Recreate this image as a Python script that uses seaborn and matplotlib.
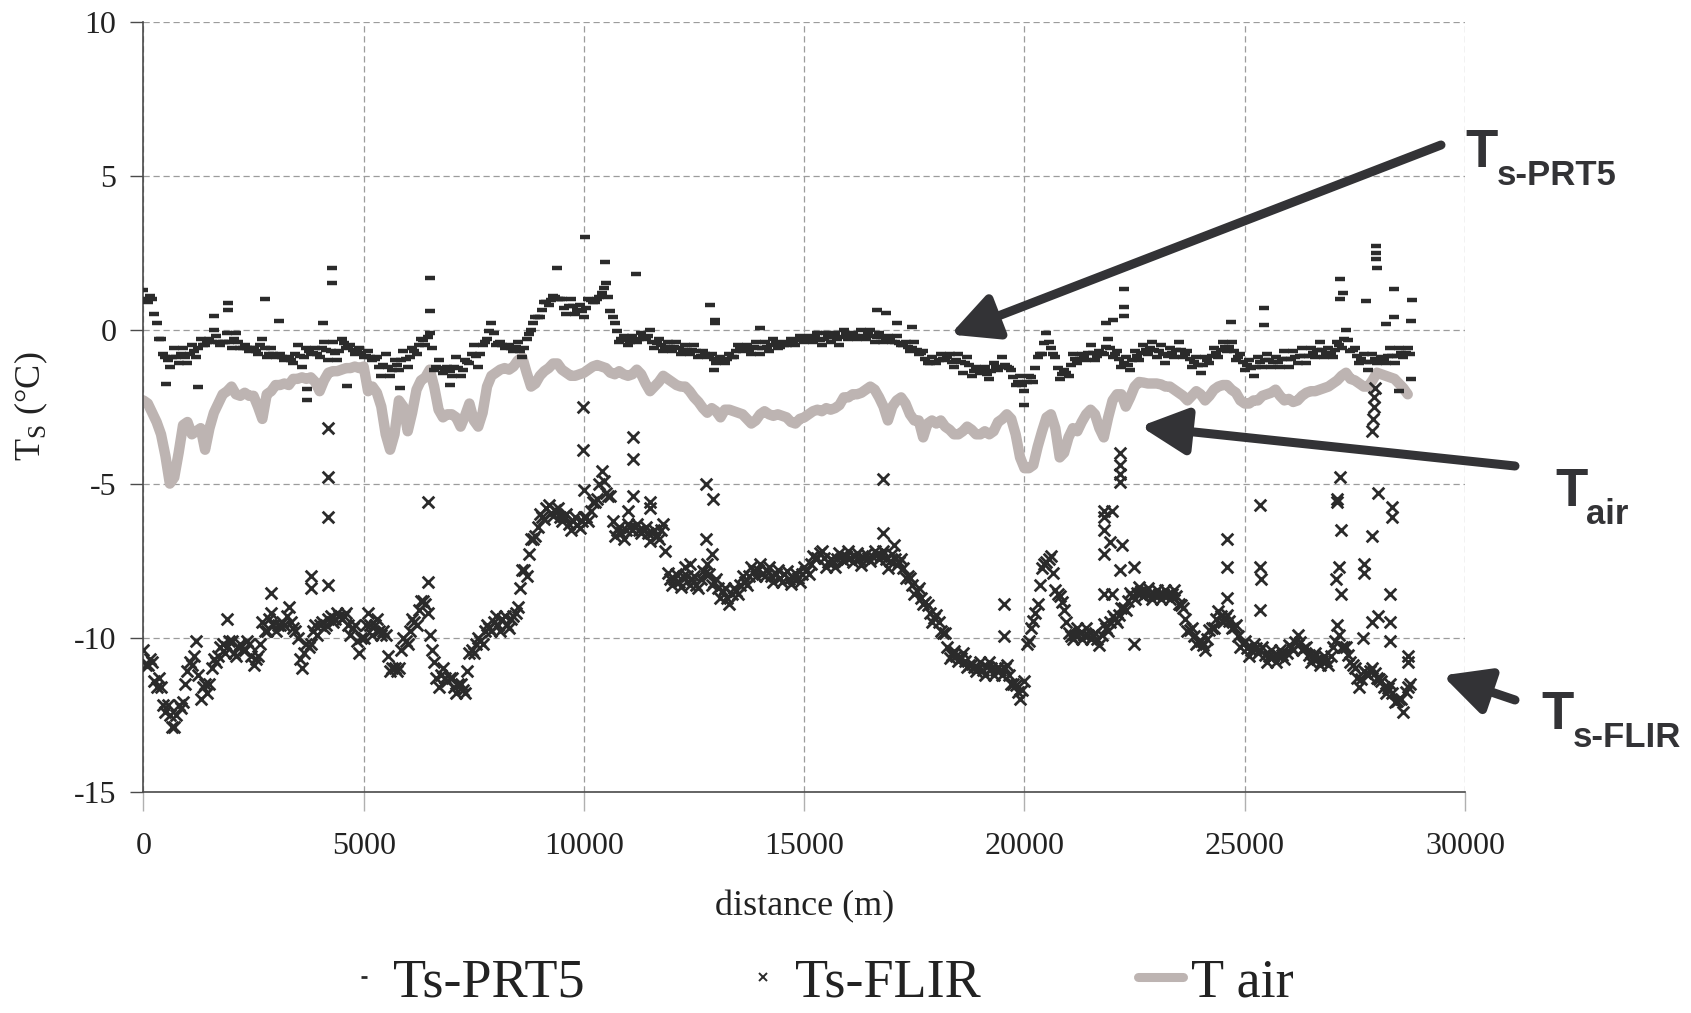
import numpy as np
import pandas as pd
import matplotlib
matplotlib.use("Agg")
import matplotlib.pyplot as plt
import seaborn as sns
from matplotlib.lines import Line2D

# ---------------- data ----------------
STEP = 100  # m between samples; the "_b" readings sit half a step later

tair = [
    -2.3, -2.4, -2.7, -3.0, -3.4, -4.1, -5.0, -4.8, -4.0, -3.1,
    -3.0, -3.4, -3.3, -3.2, -3.9, -3.2, -2.7, -2.4, -2.1, -2.0,
    -1.85, -2.1, -2.15, -2.05, -2.15, -2.15, -2.5, -2.9, -2.1, -2.0,
    -1.8, -1.8, -1.75, -1.8, -1.6, -1.6, -1.55, -1.6, -1.55, -1.7,
    -2.0, -1.65, -1.4, -1.35, -1.35, -1.3, -1.25, -1.25, -1.2, -1.25,
    -1.2, -2.0, -1.85, -2.05, -2.5, -3.4, -3.9, -3.4, -2.3, -2.5,
    -3.3, -2.7, -1.95, -1.65, -1.55, -1.3, -1.85, -2.6, -2.85, -2.75,
    -2.75, -2.85, -3.15, -2.8, -2.4, -2.95, -3.15, -2.7, -1.85, -1.5,
    -1.4, -1.3, -1.25, -1.3, -1.2, -1.0, -0.9, -1.4, -1.85, -1.75,
    -1.5, -1.35, -1.25, -1.1, -1.1, -1.3, -1.4, -1.5, -1.5, -1.45,
    -1.4, -1.3, -1.2, -1.15, -1.2, -1.25, -1.4, -1.45, -1.35, -1.45,
    -1.5, -1.45, -1.3, -1.45, -1.75, -2.0, -1.85, -1.7, -1.5, -1.6,
    -1.7, -1.8, -1.85, -1.85, -2.0, -2.2, -2.35, -2.55, -2.7, -2.55,
    -2.65, -2.85, -2.6, -2.6, -2.65, -2.7, -2.75, -2.9, -3.05, -2.95,
    -2.75, -2.65, -2.75, -2.8, -2.75, -2.8, -2.85, -3.0, -3.05, -2.9,
    -2.85, -2.75, -2.65, -2.6, -2.65, -2.55, -2.6, -2.55, -2.45, -2.2,
    -2.2, -2.1, -2.1, -2.05, -1.95, -1.85, -1.95, -2.2, -2.5, -2.95,
    -2.5, -2.3, -2.2, -2.4, -2.75, -2.95, -2.95, -3.5, -3.05, -2.95,
    -3.05, -2.95, -3.15, -3.25, -3.4, -3.4, -3.3, -3.15, -3.25, -3.4,
    -3.4, -3.3, -3.4, -3.3, -3.0, -2.9, -2.75, -2.9, -3.4, -4.15,
    -4.5, -4.5, -4.4, -3.8, -3.3, -2.85, -2.75, -3.2, -4.15, -4.0,
    -3.5, -3.2, -3.3, -3.0, -2.75, -2.6, -2.75, -3.2, -3.5, -2.85,
    -2.3, -2.1, -2.1, -2.5, -2.2, -1.85, -1.7, -1.72, -1.75, -1.75,
    -1.75, -1.78, -1.85, -1.85, -1.95, -2.05, -2.15, -2.3, -2.15, -2.0,
    -2.1, -2.3, -2.15, -1.95, -1.85, -1.8, -1.8, -1.95, -2.05, -2.3,
    -2.4, -2.4, -2.3, -2.3, -2.15, -2.1, -2.05, -1.95, -2.15, -2.3,
    -2.25, -2.35, -2.3, -2.15, -2.05, -2.0, -2.0, -1.95, -1.9, -1.85,
    -1.75, -1.65, -1.5, -1.4, -1.6, -1.65, -1.75, -1.85, -1.85, -1.65,
    -1.4, -1.45, -1.5, -1.55, -1.6, -1.75, -1.9, -2.1,
]

prt5 = [
    1.3, 0.9, 1.0, 0.2, -0.3, -0.9, -1.2, -0.6, -1.1, -0.6,
    -1.1, -0.5, -0.9, -0.3, -0.5, -0.3, 0.0, -0.4, -0.4, -0.1,
    -0.6, -0.1, -0.6, -0.5, -0.7, -0.6, -0.8, -0.3, -0.9, -0.6,
    -0.9, -0.8, -1.0, -0.9, -1.1, -0.5, -1.2, -0.6, -0.8, -0.6,
    -0.9, -0.4, -1.0, -0.4, -1.0, -0.3, -0.6, -0.5, -0.8, -0.6,
    -0.9, -0.7, -1.0, -0.9, -1.5, -0.8, -1.5, -1.0, -1.3, -0.7,
    -1.2, -0.6, -0.8, -0.3, -0.5, -0.1, -1.3, -1.0, -1.4, -1.2,
    -1.5, -0.9, -1.5, -1.0, -1.1, -0.5, -1.2, -0.5, -0.3, 0.2,
    -0.5, -0.4, -0.6, -0.5, -0.7, -0.4, -0.9, -0.3, 0.0, 0.4,
    0.4, 0.9, 0.8, 1.1, 1.0, 1.0, 0.5, 1.0, 0.5, 0.8,
    0.4, 1.0, 0.9, 1.0, 1.2, 1.5, 0.6, 0.2, -0.4, -0.2,
    -0.5, -0.2, -0.4, -0.1, -0.3, 0.0, -0.6, -0.3, -0.7, -0.4,
    -0.7, -0.4, -0.8, -0.5, -0.8, -0.5, -0.9, -0.7, -0.9, -0.8,
    -1.1, -0.9, -1.1, -0.8, -0.9, -0.5, -0.7, -0.5, -0.8, -0.4,
    -0.8, -0.4, -0.7, -0.3, -0.6, -0.4, -0.5, -0.3, -0.5, -0.2,
    -0.4, -0.2, -0.4, -0.1, -0.5, -0.1, -0.4, -0.1, -0.5, 0.0,
    -0.3, -0.1, -0.3, 0.0, -0.3, 0.0, -0.4, -0.1, -0.4, -0.2,
    -0.4, -0.2, -0.5, -0.4, -0.7, -0.4, -0.8, -0.7, -1.1, -0.9,
    -1.1, -0.8, -1.0, -0.8, -1.2, -0.8, -1.4, -0.9, -1.5, -1.2,
    -1.4, -1.2, -1.6, -1.1, -1.3, -0.9, -1.2, -1.3, -1.8, -1.5,
    -2.0, -1.5, -1.7, -0.9, -0.8, -0.1, -0.6, -0.9, -1.6, -1.3,
    -1.5, -0.8, -1.1, -0.8, -1.0, -0.5, -1.0, -0.7, -0.8, -0.3,
    -0.9, -0.7, -1.2, -0.9, -1.3, -0.7, -1.0, -0.5, -0.8, -0.4,
    -0.9, -0.5, -1.1, -0.6, -0.9, -0.4, -0.9, -0.7, -1.2, -0.9,
    -1.4, -0.9, -1.1, -0.6, -0.9, -0.4, -0.7, -0.4, -1.0, -0.8,
    -1.3, -1.0, -1.5, -0.9, -1.2, -0.8, -1.2, -0.9, -1.2, -0.7,
    -1.2, -0.7, -1.1, -0.6, -1.1, -0.6, -0.9, -0.4, -0.9, -0.6,
    -0.9, -0.4, -0.6, 0.0, -0.7, -0.6, -1.1, -0.8, -1.3, -0.8,
    -1.1, -0.9, -1.1, -0.6, -1.1, -0.6, -0.9, -0.6,
]

prt5_b = [
    1.0, 1.1, 0.5, -0.3, -0.8, -1.0, -0.9, -0.9, -0.8, -0.9,
    -0.8, -0.7, -0.6, -0.5, -0.4, -0.4, -0.2, -0.5, -0.4, -0.4,
    -0.3, -0.4, -0.6, -0.6, -0.6, -0.7, -0.5, -0.6, -0.8, -0.8,
    -0.85, -0.9, -0.95, -1.0, -0.8, -0.85, -0.9, -0.7, -0.75, -0.8,
    -0.6, -0.65, -0.7, -0.75, -0.7, -0.45, -0.55, -0.65, -0.7, -0.75,
    -0.85, -0.9, -0.95, -1.2, -1.15, -1.2, -1.3, -1.15, -1.0, -0.95,
    -0.9, -0.7, -0.5, -0.35, -0.25, -0.6, -1.2, -1.25, -1.3, -1.35,
    -1.2, -1.25, -1.3, -1.05, -0.8, -0.85, -0.8, -0.4, -0.05, -0.1,
    -0.45, -0.5, -0.55, -0.6, -0.55, -0.7, -0.6, -0.15, 0.2, 0.4,
    0.65, 0.9, 0.95, 1.05, 1.0, 0.7, 0.75, 0.75, 0.65, 0.6,
    0.7, 0.95, 0.9, 1.05, 1.35, 1.05, 0.4, -0.05, -0.3, -0.35,
    -0.4, -0.35, -0.3, -0.25, -0.2, -0.4, -0.45, -0.5, -0.55, -0.55,
    -0.55, -0.6, -0.65, -0.65, -0.65, -0.7, -0.85, -0.8, -0.85, -0.95,
    -1.0, -1.0, -0.95, -0.9, -0.7, -0.55, -0.6, -0.65, -0.55, -0.6,
    -0.6, -0.55, -0.5, -0.45, -0.55, -0.5, -0.45, -0.4, -0.35, -0.35,
    -0.35, -0.3, -0.25, -0.35, -0.3, -0.25, -0.25, -0.3, -0.25, -0.15,
    -0.25, -0.2, -0.2, -0.25, -0.15, -0.2, -0.25, -0.25, -0.35, -0.35,
    -0.4, -0.45, -0.5, -0.55, -0.6, -0.65, -0.75, -0.95, -1.1, -1.05,
    -1.0, -0.95, -0.9, -1.05, -1.0, -1.05, -1.1, -1.15, -1.35, -1.3,
    -1.35, -1.45, -1.35, -1.2, -1.2, -1.15, -1.25, -1.55, -1.7, -1.8,
    -1.7, -1.55, -1.25, -0.8, -0.45, -0.4, -0.8, -1.25, -1.45, -1.4,
    -1.15, -0.95, -0.95, -0.9, -0.75, -0.75, -0.85, -0.75, -0.55, -0.6,
    -0.8, -0.95, -1.1, -1.15, -1.0, -0.85, -0.75, -0.65, -0.6, -0.65,
    -0.7, -0.8, -0.85, -0.75, -0.65, -0.65, -0.8, -0.95, -1.05, -1.15,
    -1.15, -1.0, -0.85, -0.75, -0.65, -0.55, -0.55, -0.7, -0.9, -1.05,
    -1.15, -1.25, -1.2, -1.05, -1.0, -1.0, -1.05, -1.05, -0.95, -0.95,
    -0.95, -0.9, -0.85, -0.85, -0.85, -0.75, -0.65, -0.65, -0.75, -0.75,
    -0.65, -0.5, -0.3, -0.35, -0.65, -0.85, -0.95, -1.05, -1.05, -0.95,
    -1.0, -1.0, -0.85, -0.85, -0.85, -0.75, -0.75, -0.8,
]

flir = [
    -10.4, -10.9, -10.8, -11.6, -11.6, -12.4, -12.5, -12.9, -12.2, -12.1,
    -11.1, -10.9, -10.1, -12.0, -11.5, -11.5, -10.7, -10.6, -10.2, -10.3,
    -10.1, -10.6, -10.2, -10.4, -10.2, -10.9, -10.6, -9.5, -9.8, -9.2,
    -9.8, -9.6, -9.6, -9.0, -9.7, -10.0, -11.0, -10.2, -10.2, -9.6,
    -9.6, -9.7, -9.4, -9.5, -9.2, -9.4, -9.2, -9.9, -9.6, -10.5,
    -10.0, -9.2, -9.9, -9.4, -9.9, -9.9, -11.1, -11.0, -11.0, -10.0,
    -10.2, -9.4, -9.6, -8.8, -8.9, -9.9, -10.8, -11.6, -11.0, -11.4,
    -11.3, -11.8, -11.5, -11.8, -10.5, -10.5, -10.0, -10.2, -9.6, -9.8,
    -9.3, -9.8, -9.3, -9.7, -9.3, -9.0, -7.8, -8.0, -6.8, -6.7,
    -6.0, -6.15, -5.7, -6.05, -5.8, -6.2, -6.0, -6.5, -6.1, -6.45,
    -6.1, -6.2, -5.6, -5.5, -4.6, -5.3, -5.4, -6.7, -6.4, -6.8,
    -6.3, -6.5, -6.3, -6.6, -6.4, -6.85, -6.5, -6.8, -6.3, -7.9,
    -8.3, -7.95, -8.35, -7.7, -8.3, -8.0, -8.4, -7.85, -7.6, -8.3,
    -8.1, -8.7, -8.4, -8.9, -8.4, -8.6, -8.0, -8.3, -7.7, -8.0,
    -7.6, -8.0, -7.7, -8.2, -7.8, -8.2, -7.85, -8.25, -7.9, -8.2,
    -7.7, -7.95, -7.35, -7.4, -7.2, -7.7, -7.45, -7.7, -7.25, -7.5,
    -7.2, -7.55, -7.25, -7.65, -7.3, -7.5, -7.2, -7.45, -7.2, -7.75,
    -7.3, -7.65, -7.45, -8.05, -8.05, -8.6, -8.4, -8.9, -8.95, -9.5,
    -9.25, -9.8, -9.85, -10.65, -10.45, -10.75, -10.5, -10.95, -10.85, -11.1,
    -10.8, -11.2, -10.8, -11.2, -10.95, -11.2, -10.9, -11.5, -11.55, -12.0,
    -11.4, -10.1, -9.45, -8.9, -7.75, -7.55, -7.35, -8.45, -8.65, -9.1,
    -9.85, -10.05, -9.7, -10.05, -9.7, -10.05, -9.85, -10.25, -9.55, -9.8,
    -9.3, -9.5, -9.05, -9.1, -8.55, -8.75, -8.35, -8.65, -8.4, -8.75,
    -8.45, -8.75, -8.45, -8.75, -8.45, -8.9, -9.05, -9.8, -9.7, -10.2,
    -10.1, -10.4, -9.75, -9.7, -9.15, -9.5, -9.25, -9.7, -9.6, -10.3,
    -10.1, -10.6, -10.2, -10.5, -10.3, -10.8, -10.4, -10.8, -10.4, -10.7,
    -10.25, -10.4, -9.9, -10.4, -10.3, -10.8, -10.5, -10.9, -10.6, -10.9,
    -10.3, -9.6, -10.3, -10.3, -10.8, -11.0, -11.6, -11.1, -11.2, -11.0,
    -11.3, -11.4, -11.8, -11.5, -12.1, -12.0, -12.4, -11.6,
]

flir_b = [
    -10.9, -10.7, -11.4, -11.3, -12.2, -12.2, -12.9, -12.5, -12.3, -11.5,
    -10.8, -10.6, -11.2, -11.6, -11.8, -11.0, -10.8, -10.3, -10.5, -10.1,
    -10.5, -10.3, -10.4, -10.1, -10.6, -10.7, -10.2, -9.8, -9.4, -9.6,
    -9.6, -9.5, -9.3, -9.5, -9.8, -10.7, -10.5, -10.3, -9.8, -9.9,
    -9.5, -9.6, -9.3, -9.4, -9.3, -9.3, -9.6, -9.7, -10.1, -10.0,
    -9.6, -9.6, -9.6, -9.8, -9.8, -10.6, -11.0, -11.1, -10.4, -10.1,
    -9.8, -9.5, -9.1, -8.8, -9.2, -10.4, -11.3, -11.2, -11.3, -11.3,
    -11.6, -11.5, -11.7, -11.1, -10.4, -10.2, -10.1, -9.8, -9.7, -9.5,
    -9.6, -9.4, -9.6, -9.4, -9.2, -8.4, -7.8, -7.3, -6.8, -6.4,
    -6.1, -5.8, -5.95, -5.85, -6.1, -6.05, -6.3, -6.2, -6.35, -6.2,
    -6.1, -5.9, -5.6, -5.0, -4.9, -5.4, -6.2, -6.5, -6.6, -6.5,
    -6.4, -6.4, -6.5, -6.5, -6.6, -6.6, -6.7, -6.5, -7.2, -8.1,
    -8.1, -8.2, -8.0, -8.0, -8.1, -8.3, -8.1, -7.9, -7.95, -8.2,
    -8.4, -8.5, -8.7, -8.6, -8.5, -8.3, -8.2, -8.0, -7.85, -7.8,
    -7.95, -7.8, -8.0, -7.95, -8.05, -7.95, -8.1, -8.05, -8.05, -7.95,
    -7.85, -7.6, -7.4, -7.25, -7.4, -7.55, -7.55, -7.45, -7.35, -7.35,
    -7.4, -7.35, -7.45, -7.4, -7.4, -7.35, -7.3, -7.35, -7.45, -7.5,
    -7.45, -7.55, -7.75, -8.0, -8.3, -8.5, -8.7, -8.85, -9.2, -9.35,
    -9.5, -9.85, -10.3, -10.55, -10.6, -10.65, -10.75, -10.9, -10.95, -11.0,
    -11.05, -10.95, -11.0, -11.05, -11.05, -11.0, -11.2, -11.5, -11.75, -11.7,
    -10.2, -9.7, -9.2, -8.3, -7.6, -7.45, -7.9, -8.6, -8.85, -9.5,
    -9.95, -9.9, -9.85, -9.9, -9.9, -9.95, -10.05, -9.9, -9.7, -9.5,
    -9.4, -9.25, -9.05, -8.8, -8.65, -8.55, -8.5, -8.5, -8.6, -8.6,
    -8.6, -8.6, -8.6, -8.6, -8.65, -8.95, -9.4, -9.75, -9.95, -10.15,
    -10.25, -10.05, -9.7, -9.4, -9.3, -9.35, -9.45, -9.65, -9.95, -10.2,
    -10.35, -10.4, -10.35, -10.4, -10.55, -10.6, -10.6, -10.6, -10.55, -10.5,
    -10.3, -10.15, -10.15, -10.35, -10.55, -10.65, -10.7, -10.75, -10.75, -10.6,
    -10.1, -9.9, -10.3, -10.55, -10.9, -11.3, -11.35, -11.15, -11.1, -11.15,
    -11.35, -11.6, -11.65, -11.8, -12.05, -12.0, -11.75, -11.5,
]

# isolated readings away from the main bands
prt5_out_x = [520, 1240, 1600, 1920, 1920, 2761, 3080, 3720, 3720, 4075, 4275, 4275,
              4630, 5836, 6508, 6508, 6970, 9384, 10030, 10468, 11188, 12854, 12983,
              12983, 12950, 13990, 16657, 16846, 17111, 17450, 20000, 21852, 22000,
              22254, 22254, 22254, 24693, 25436, 25436, 27163, 27220, 27163, 27761,
              27990, 27990, 27990, 28000, 28200, 28390, 28390, 28500, 28770, 28806, 28780]
prt5_out_y = [-1.78, -1.86, 0.44, 0.85, 0.65, 0.98, 0.27, -2.27, -1.94, 0.22, 1.99, 1.5,
              -1.83, -1.89, 1.69, 0.6, -1.8, 2.0, 3.0, 2.2, 1.8, 0.8, 0.3,
              0.2, -1.3, 0.05, 0.65, 0.55, 0.2, 0.08, -2.45, 0.22, 0.3,
              1.33, 0.73, 0.44, 0.25, 0.71, 0.14, 1.63, 1.2, 1.0, 0.93,
              2.7, 2.5, 2.3, 2.0, 0.19, 1.33, 0.41, -2.0, 0.27, 0.95, -1.6]

flir_out_x = [1900, 2900, 3800, 3800, 4200, 4200, 4200, 4200, 6460, 6460, 9968, 9968,
              10000, 11000, 11125, 11125, 11125, 11500, 11500, 12400, 12775, 12920,
              12770, 12900, 16780, 16800, 17030, 19540, 19540, 21797, 21986, 21797,
              21797, 21948, 22213, 21812, 22160, 22478, 21800, 21990, 22493, 22175,
              22175, 22175, 22175, 24597, 24597, 24597, 25354, 25354, 25360, 25354,
              27170, 27095, 27095, 27180, 27150, 27080, 27180, 27890, 27920, 27930,
              27940, 27950, 28018, 27890, 28343, 28343, 27700, 27700, 28300, 28030,
              27880, 28300, 27680, 28300, 28700, 28700]
flir_out_y = [-9.4, -8.55, -8.0, -8.4, -3.2, -4.8, -6.1, -8.3, -5.6, -8.2, -2.5, -3.9,
              -5.2, -5.9, -3.5, -4.2, -5.4, -5.6, -5.8, -7.6, -5.0, -5.5,
              -6.8, -7.3, -4.86, -6.6, -7.0, -8.9, -9.96, -5.9, -5.9, -6.1,
              -6.5, -6.9, -7.0, -7.3, -7.8, -7.7, -8.6, -8.6, -10.2, -4.0,
              -4.4, -4.7, -4.95, -6.8, -7.7, -8.7, -5.7, -7.7, -8.1, -9.1,
              -4.8, -5.5, -5.6, -6.5, -7.7, -8.1, -8.6, -3.3, -2.9, -2.5,
              -2.2, -1.9, -5.3, -6.7, -5.75, -6.1, -7.6, -7.9, -8.6, -9.3,
              -9.5, -9.5, -10.0, -10.1, -10.6, -10.8]

x_ticks = [0, 5000, 10000, 15000, 20000, 25000, 30000]
y_ticks = [-15, -10, -5, 0, 5, 10]
legend_labels = ["Ts-PRT5", "Ts-FLIR", "T air"]

# ---------------- tables ----------------
def grid_of(values, offset=0):
    return np.arange(len(values)) * STEP + offset

df_tair = pd.DataFrame({"distance": grid_of(tair), "T": tair})
df_prt5 = pd.concat([
    pd.DataFrame({"distance": grid_of(prt5), "T": prt5}),
    pd.DataFrame({"distance": grid_of(prt5_b, STEP // 2), "T": prt5_b}),
    pd.DataFrame({"distance": prt5_out_x, "T": prt5_out_y}),
], ignore_index=True)
df_flir = pd.concat([
    pd.DataFrame({"distance": grid_of(flir), "T": flir}),
    pd.DataFrame({"distance": grid_of(flir_b, STEP // 2), "T": flir_b}),
    pd.DataFrame({"distance": flir_out_x, "T": flir_out_y}),
], ignore_index=True)

# ---------------- style ----------------
sns.set_theme(style="white")
plt.rcParams["font.family"] = ["Liberation Serif", "DejaVu Serif"]
plt.rcParams["axes.unicode_minus"] = False
plt.rcParams["mathtext.fontset"] = "custom"
plt.rcParams["mathtext.rm"] = "Liberation Serif"

W, H = 1691, 1013
fig = plt.figure(figsize=(W / 100, H / 100), dpi=100)
ax = fig.add_axes([143.4 / W, 1 - 791.6 / H, (1465 - 143.4) / W, (791.6 - 21.6) / H])

DARK = "#2b2b2b"
AIR = "#bdb4b2"

sns.lineplot(data=df_tair, x="distance", y="T", ax=ax, color=AIR, linewidth=7.5,
             sort=False, zorder=2, legend=False)
sns.scatterplot(data=df_prt5, x="distance", y="T", ax=ax, marker="_", s=55,
                linewidth=3.2, color=DARK, zorder=3, legend=False)
sns.scatterplot(data=df_flir, x="distance", y="T", ax=ax, marker="x", s=70,
                linewidth=2.0, color=DARK, zorder=3, legend=False)

ax.set_xlim(0, 30000)
ax.set_ylim(-15, 10)
ax.set_xticks(x_ticks)
ax.set_yticks(y_ticks)
ax.grid(True, linestyle=(0, (5, 3)), color="#9c9c9c", linewidth=0.9)
ax.set_axisbelow(True)
sns.despine(ax=ax)
for side in ("left", "bottom"):
    ax.spines[side].set_color("#4a4a4a")
    ax.spines[side].set_linewidth(1.2)

ax.tick_params(axis="y", left=True, length=9.5, width=1, color="#4a4a4a", pad=10,
               labelsize=23, labelcolor="#222222")
ax.tick_params(axis="x", bottom=True, length=14, width=1, color="#b0b0b0", pad=15,
               labelsize=23, labelcolor="#222222")

ax.set_xlabel("distance (m)", fontsize=26, color="#222222")
ax.set_ylabel(r"T$_{\mathregular{S}}$ (°C)", fontsize=26, color="#222222")
ax.xaxis.set_label_coords(0.5, -0.128)
ax.yaxis.set_label_coords(-0.071, 0.5)

# ---------------- legend (three entries placed along the bottom) ----------------
def fxf(px):
    return px / W

def fyf(py):
    return 1 - py / H

h_prt5 = Line2D([], [], linestyle="none", marker="_", markersize=5, markeredgewidth=2,
                color=DARK)
h_flir = Line2D([], [], linestyle="none", marker="x", markersize=6, markeredgewidth=1.4,
                color=DARK)
h_air = Line2D([], [], color=AIR, linewidth=6.5, solid_capstyle="round")

leg_specs = [(h_prt5, legend_labels[0], 348, 0.6, 0.23),
             (h_flir, legend_labels[1], 747, 0.6, 0.29),
             (h_air, legend_labels[2], 1138, 0.83, 0.14)]
for h, lab, xpix, hl, tp in leg_specs:
    fig.legend(handles=[h], labels=[lab], loc="center left",
               bbox_to_anchor=(fxf(xpix), fyf(983)), frameon=False, fontsize=39,
               handlelength=hl, handletextpad=tp, borderpad=0, borderaxespad=0,
               labelcolor="#222222")

# ---------------- arrows + labels ----------------
ARROW = "#333336"
SANS = ["Liberation Sans", "DejaVu Sans"]
arrow_kw = dict(arrowstyle="-|>,head_length=1.4,head_width=0.7", mutation_scale=20,
                lw=6.5, color=ARROW, shrinkA=0, shrinkB=0)
ax.annotate("", xy=(18315, -0.16), xycoords="data", xytext=(fxf(1441), fyf(145)),
            textcoords="figure fraction", arrowprops=arrow_kw, annotation_clip=False)
ax.annotate("", xy=(22630, -3.14), xycoords="data", xytext=(fxf(1515), fyf(466)),
            textcoords="figure fraction", arrowprops=arrow_kw, annotation_clip=False)
ax.annotate("", xy=(29487, -11.23), xycoords="data", xytext=(fxf(1515), fyf(700)),
            textcoords="figure fraction", arrowprops=arrow_kw, annotation_clip=False)

labels_big = [(1465, 167, "T"), (1555, 506, "T"), (1541, 729, "T")]
labels_sub = [(1497, 185, "s-PRT5"), (1586, 524, "air"), (1573, 747, "s-FLIR")]
for xp, yp, t in labels_big:
    fig.text(fxf(xp), fyf(yp), t, fontsize=38, fontweight="bold", family=SANS,
             color=ARROW, va="baseline", ha="left")
for xp, yp, t in labels_sub:
    fig.text(fxf(xp), fyf(yp), t, fontsize=25, fontweight="bold", family=SANS,
             color=ARROW, va="baseline", ha="left")

fig.savefig("out.png", dpi=100, facecolor="white")
